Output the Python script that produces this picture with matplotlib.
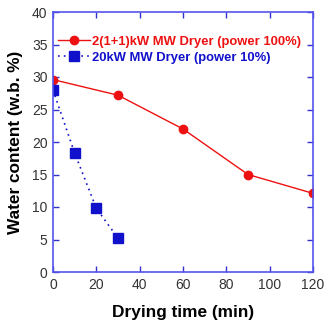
import matplotlib
matplotlib.use("Agg")
import matplotlib.pyplot as plt

plt.rcParams['font.family'] = ['Liberation Sans', 'DejaVu Sans']

time_1kw = [0, 30, 60, 90, 120]
water_1kw = [29.6, 27.2, 22.0, 15.0, 12.1]
time_20kw = [0, 10, 20, 30]
water_20kw = [28.0, 18.3, 9.8, 5.2]

label_1kw = "2(1+1)kW MW Dryer (power 100%)"
label_20kw = "20kW MW Dryer (power 10%)"
xticks = [0, 20, 40, 60, 80, 100, 120]
yticks = [0, 5, 10, 15, 20, 25, 30, 35, 40]

fig = plt.figure(figsize=(3.31, 3.27), dpi=100)
ax = fig.add_axes([53/331, 1 - 272/327, 260/331, 260/327])

ax.plot(time_1kw, water_1kw, color='#ee1111', lw=1.0, marker='o',
        ms=6, mfc='#ee1111', mec='#ee1111', label=label_1kw)
ax.plot(time_20kw, water_20kw, color='#1111cc', lw=1.2, ls=(0, (1, 2.5)),
        marker='s', ms=6.5, mfc='#1111cc', mec='#1111cc', label=label_20kw)

ax.set_xlim(0, 120)
ax.set_ylim(0, 40)
ax.set_xticks(xticks)
ax.set_yticks(yticks)
for s in ax.spines.values():
    s.set_color('#5555ee')
    s.set_linewidth(1.2)
ax.tick_params(direction='in', top=True, right=True, length=4, width=1,
               color='#3333cc', labelsize=10, labelcolor='#333333', pad=4)

ax.set_xlabel("Drying time (min)", fontsize=12.4, fontweight='bold', labelpad=10)
ax.set_ylabel("Water content (w.b. %)", fontsize=12.4, fontweight='bold', labelpad=6)

leg = ax.legend(loc='upper left', bbox_to_anchor=(-0.01, 0.94), frameon=False,
                handlelength=2.4, handletextpad=0.2, labelspacing=0.3,
                prop={'size': 9.4, 'weight': 'bold'}, borderaxespad=0.2)
for t, c in zip(leg.get_texts(), ['#ee1111', '#1111cc']):
    t.set_color(c)

fig.savefig("out.png", dpi=100)
